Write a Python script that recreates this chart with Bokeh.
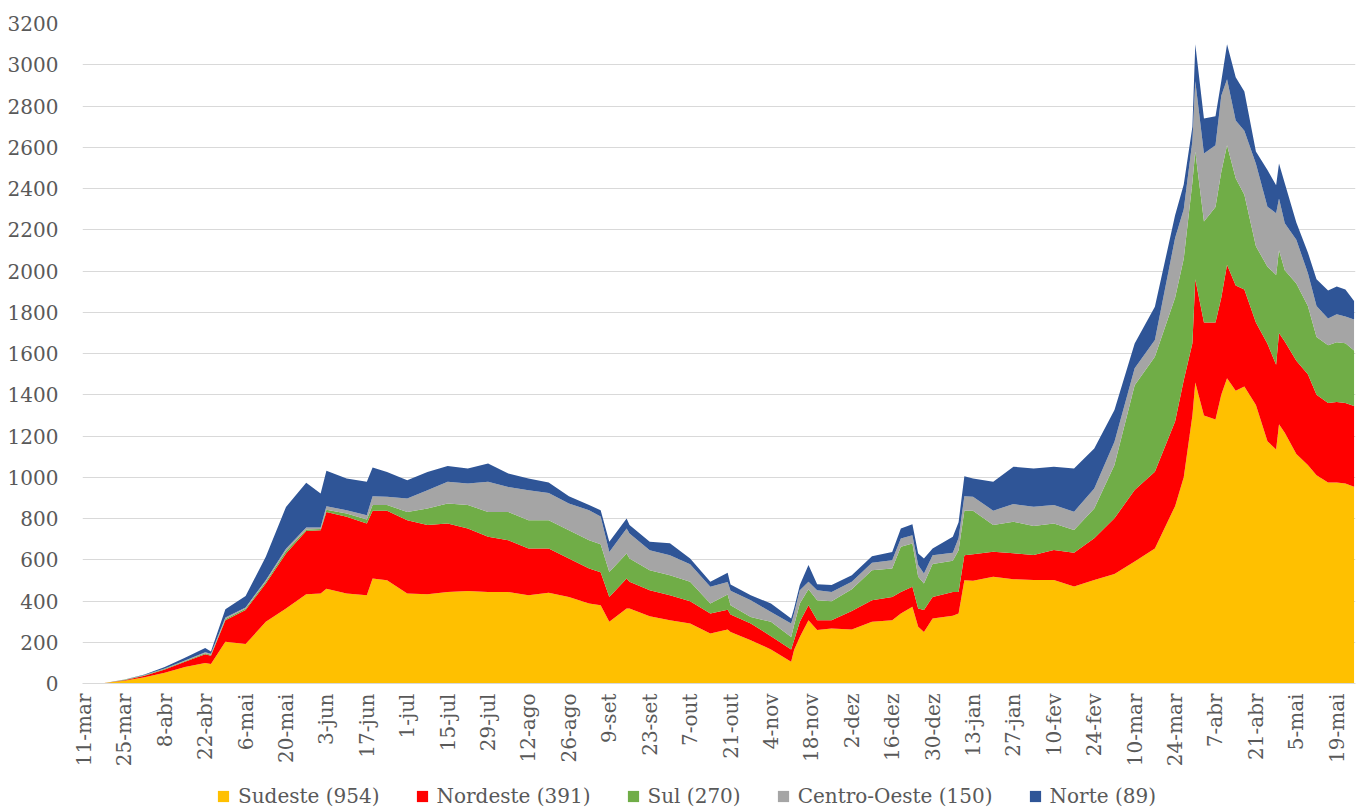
import numpy as np
from bokeh.plotting import figure
from bokeh.layouts import column
from bokeh.models import FixedTicker, Legend, LegendItem, Range1d
from bokeh.embed import file_html
from bokeh.resources import INLINE

# day index counted from 11-mar-2020
days = [0, 6, 7, 14, 21, 28, 35, 42, 44, 49, 56, 63, 70, 77, 82, 84, 91, 98, 100, 105,
        112, 119, 126, 133, 140, 147, 154, 161, 168, 175, 179, 182, 188, 189, 196, 203,
        210, 217, 223, 224, 231, 238, 245, 246, 248, 251, 254, 259, 266, 273, 280, 283,
        287, 289, 291, 294, 301, 303, 305, 308, 315, 322, 329, 336, 343, 350, 357, 364,
        371, 378, 381, 384, 385, 388, 392, 394, 396, 399, 402, 406, 410, 413, 414, 416,
        420, 424, 427, 431, 434, 437, 440]

sudeste = [0, 0, 2, 13, 30, 52, 80, 100, 95, 202, 191, 299, 364, 433, 436, 460, 436, 428, 509, 501,
           436, 433, 444, 449, 444, 444, 428, 440, 420, 388, 380, 299, 364, 364, 326, 307,
           291, 242, 262, 250, 210, 165, 105, 162, 226, 307, 259, 267, 262, 299, 307, 339,
           372, 275, 250, 315, 328, 339, 501, 498, 518, 506, 502, 502, 470, 502, 531, 591,
           655, 860, 1000, 1300, 1460, 1300, 1280, 1400, 1480, 1420, 1440, 1350, 1175, 1134, 1257, 1216,
           1113, 1060, 1010, 975, 975, 970, 954]

nordeste = [0, 0, 0, 3, 7, 16, 25, 42, 40, 105, 165, 186, 266, 307, 307, 372, 372, 348, 328, 336,
            356, 335, 332, 302, 267, 251, 226, 214, 186, 169, 160, 121, 145, 129, 126, 121,
            108, 97, 95, 85, 81, 64, 60, 48, 73, 73, 48, 40, 90, 105, 113, 105,
            97, 89, 106, 105, 116, 105, 121, 129, 121, 125, 121, 145, 164, 202, 270, 347,
            372, 410, 470, 350, 500, 450, 470, 470, 550, 510, 470, 400, 472, 411, 442, 442,
            452, 440, 390, 385, 390, 390, 391]

sul = [0, 0, 0, 2, 3, 3, 4, 5, 5, 6, 8, 8, 13, 7, 6, 11, 16, 19, 28, 28,
       40, 80, 97, 114, 121, 137, 138, 138, 137, 138, 135, 121, 121, 113, 97, 97,
       94, 49, 75, 45, 32, 70, 61, 73, 89, 77, 97, 92, 105, 145, 137, 219,
       210, 153, 129, 159, 151, 202, 215, 210, 129, 153, 141, 129, 110, 145, 258, 508,
       557, 600, 590, 780, 620, 490, 560, 610, 580, 520, 460, 370, 374, 436, 402, 346,
       374, 330, 280, 280, 290, 290, 270]

centro_oeste = [0, 0, 0, 1, 1, 2, 3, 4, 4, 7, 5, 8, 10, 9, 7, 17, 16, 21, 43, 40,
                65, 89, 105, 105, 146, 121, 145, 132, 130, 145, 135, 97, 121, 121, 97, 97,
                85, 81, 60, 70, 81, 48, 65, 56, 64, 36, 48, 45, 36, 36, 41, 40,
                40, 57, 48, 43, 39, 60, 71, 68, 70, 86, 93, 89, 89, 97, 113, 82,
                81, 290, 240, 200, 340, 330, 300, 370, 320, 280, 310, 400, 291, 299, 250, 227,
                212, 160, 150, 130, 135, 130, 150]

norte = [0, 0, 0, 1, 3, 7, 13, 21, 11, 40, 55, 113, 203, 217, 165, 171, 154, 162, 139, 121,
         89, 89, 76, 72, 89, 65, 57, 50, 35, 25, 30, 49, 49, 41, 41, 58,
         28, 24, 45, 30, 24, 41, 24, 25, 25, 81, 29, 33, 32, 32, 40, 48,
         53, 56, 73, 33, 77, 76, 97, 89, 140, 181, 186, 186, 210, 194, 154, 121,
         162, 110, 120, 70, 180, 170, 140, 70, 170, 210, 190, 60, 178, 136, 170, 194,
         84, 100, 130, 135, 135, 130, 89]

regions = ["Sudeste", "Nordeste", "Sul", "Centro-Oeste", "Norte"]
latest = [954, 391, 270, 150, 89]
colors = ["#FFC000", "#FF0000", "#70AD47", "#A5A5A5", "#2F5597"]

tick_days = list(range(0, 435, 14))
tick_labels = ["11-mar", "25-mar", "8-abr", "22-abr", "6-mai", "20-mai", "3-jun", "17-jun",
               "1-jul", "15-jul", "29-jul", "12-ago", "26-ago", "9-set", "23-set", "7-out",
               "21-out", "4-nov", "18-nov", "2-dez", "16-dez", "30-dez", "13-jan", "27-jan",
               "10-fev", "24-fev", "10-mar", "24-mar", "7-abr", "21-abr", "5-mai", "19-mai"]
y_ticks = list(range(0, 3201, 200))

FONT = "DejaVu Serif"
TXT = "#595959"
GRID = "#D9D9D9"

p = figure(width=1366, height=784, output_backend="svg", toolbar_location=None,
           x_range=Range1d(-0.5, 440.5), y_range=Range1d(0, 3200),
           min_border_left=82, min_border_right=11, min_border_top=23,
           min_border_bottom=101)
p.outline_line_color = None
p.background_fill_color = "white"

# legend strip below the chart
leg = figure(width=1366, height=26, output_backend="svg", toolbar_location=None,
             x_range=Range1d(-0.5, 440.5), y_range=Range1d(5000, 6000),
             x_axis_location=None, y_axis_location=None,
             min_border_left=0, min_border_right=0, min_border_top=0, min_border_bottom=0)
leg.grid.visible = False
leg.outline_line_color = None

series = [sudeste, nordeste, sul, centro_oeste, norte]
base = np.zeros(len(days))
items = []
for name, val, vals, col in zip(regions, latest, series, colors):
    top = base + np.array(vals, dtype=float)
    p.varea(x=days, y1=base, y2=top, fill_color=col, fill_alpha=1.0)
    r2 = leg.varea(x=days, y1=base, y2=top, fill_color=col, fill_alpha=1.0)
    items.append(LegendItem(label=f"{name} ({val})", renderers=[r2]))
    base = top

p.xgrid.grid_line_color = None
p.ygrid.ticker = FixedTicker(ticks=y_ticks)
p.ygrid.grid_line_color = GRID
p.ygrid.grid_line_width = 1

p.yaxis.ticker = FixedTicker(ticks=y_ticks)
p.yaxis.axis_line_color = None
p.yaxis.major_tick_line_color = None
p.yaxis.minor_tick_line_color = None
p.yaxis.major_tick_out = 0
p.yaxis.major_label_standoff = 24
p.yaxis.major_label_text_font = FONT
p.yaxis.major_label_text_font_size = "20px"
p.yaxis.major_label_text_color = TXT

p.xaxis.ticker = FixedTicker(ticks=tick_days)
p.xaxis.major_label_overrides = {d: lab for d, lab in zip(tick_days, tick_labels)}
p.xaxis.major_label_orientation = np.pi / 2
p.xaxis.axis_line_color = GRID
p.xaxis.major_tick_line_color = None
p.xaxis.minor_tick_line_color = None
p.xaxis.major_tick_out = 0
p.xaxis.major_label_standoff = 10
p.xaxis.major_label_text_font = FONT
p.xaxis.major_label_text_font_size = "20px"
p.xaxis.major_label_text_color = TXT

legend = Legend(items=items, orientation="horizontal", location=(134, 2),
                label_text_font=FONT, label_text_font_size="20px", label_text_color=TXT,
                glyph_width=14, glyph_height=14, label_standoff=8, spacing=35,
                border_line_color=None, background_fill_alpha=0, padding=0, margin=0)
leg.add_layout(legend, "center")

layout = column(p, leg)
open("out.html", "w").write(file_html(layout, INLINE))
